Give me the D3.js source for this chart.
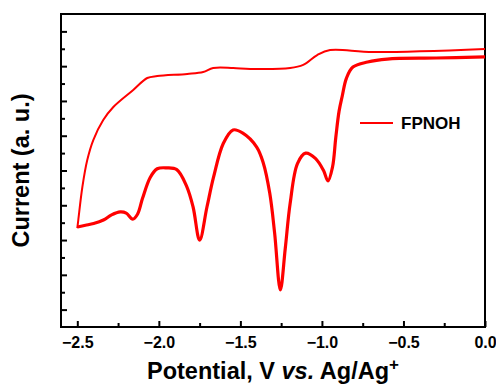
<!DOCTYPE html>
<html>
<head>
<meta charset="utf-8">
<script src="https://cdn.jsdelivr.net/npm/d3@7"></script>
<style>
html,body{margin:0;padding:0;background:#fff;}
svg{display:block;font-family:"Liberation Sans",Arial,sans-serif;}
</style>
</head>
<body>
<svg id="chart" width="496" height="385"></svg>
<script>
// ---- data ----
const seriesName = "FPNOH";
// reduction sweep (lower trace, peaks), listed by increasing potential
const sweepDownPotential = [-2.5,-2.45,-2.40,-2.34,-2.29,-2.237,-2.20,-2.16,-2.13,-2.10,-2.053,-2.01,-1.95,-1.89,-1.83,-1.79,-1.75,-1.705,-1.665,-1.605,-1.545,-1.485,-1.40,-1.36,-1.32,-1.29,-1.255,-1.225,-1.195,-1.15,-1.10,-1.04,-0.99,-0.963,-0.935,-0.915,-0.895,-0.875,-0.85,-0.81,-0.72,-0.60,-0.30,0];
const sweepDownCurrent   = [5.75,5.85,5.95,6.15,6.45,6.62,6.55,6.2,6.5,7.4,8.6,9.1,9.15,9.05,8.1,6.9,5.0,6.9,8.6,10.55,11.33,11.15,10.35,9.45,7.7,5.4,2.13,4.5,7.1,9.4,10.0,9.7,9.0,8.4,9.2,10.9,12.4,13.3,14.3,14.95,15.24,15.41,15.47,15.53];
// return sweep (upper trace)
const sweepUpPotential = [-2.5,-2.494,-2.469,-2.439,-2.402,-2.341,-2.279,-2.157,-2.071,-2.01,-1.826,-1.728,-1.667,-1.544,-1.44,-1.195,-1.115,-1.029,-0.95,-0.686,0];
const sweepUpCurrent   = [5.69,6.15,8.05,9.6,10.75,11.9,12.65,13.63,14.32,14.43,14.55,14.66,14.89,14.89,14.84,14.89,15.07,15.64,15.93,15.81,15.99];
const xMajorTicks = [-2.5,-2.0,-1.5,-1.0,-0.5,0.0];
const xMinorTicks = [-2.25,-1.75,-1.25,-0.75,-0.25];
const yMajorTicks = [1,3,5,7,9,11,13,15,17];
const yMinorTicks = [2,4,6,8,10,12,14,16];

// ---- layout ----
const L = 61, R = 485, T = 14, B = 327;
const svg = d3.select("#chart");
const x = d3.scaleLinear().domain([-2.6, 0]).range([L, R]);
const y = d3.scaleLinear().domain([0, 18]).range([B, T]);

// ticks
const gx = svg.append("g").attr("transform", `translate(0,${B})`);
gx.call(d3.axisBottom(x).tickValues(xMajorTicks).tickSize(-6).tickFormat(d3.format(".1f")).tickPadding(9));
gx.append("g").call(d3.axisBottom(x).tickValues(xMinorTicks).tickSize(-4).tickFormat(""));
gx.selectAll(".domain").remove();
gx.selectAll("line").attr("stroke", "#000").attr("stroke-width", 2);
gx.selectAll("text").attr("font-size", 16).attr("font-weight", "bold").attr("fill", "#000")
  .attr("dy", null).attr("y", 21).attr("dominant-baseline", "alphabetic");

const gy = svg.append("g").attr("transform", `translate(${L},0)`);
gy.call(d3.axisLeft(y).tickValues(yMajorTicks).tickSize(-6).tickFormat(""));
gy.append("g").call(d3.axisLeft(y).tickValues(yMinorTicks).tickSize(-4).tickFormat(""));
gy.selectAll(".domain").remove();
gy.selectAll("line").attr("stroke", "#000").attr("stroke-width", 2);

// frame
svg.append("rect").attr("x", L).attr("y", T).attr("width", R - L).attr("height", B - T)
  .attr("fill", "none").attr("stroke", "#000").attr("stroke-width", 2);

// curves
const line = d3.line().x(d => x(d[0])).y(d => y(d[1])).curve(d3.curveCatmullRom.alpha(0.5));
const down = sweepDownPotential.map((p, i) => [p, sweepDownCurrent[i]]);
const up = sweepUpPotential.map((p, i) => [p, sweepUpCurrent[i]]);
svg.append("path").datum(up).attr("d", line).attr("fill", "none").attr("stroke", "#ff0000").attr("stroke-width", 2);
svg.append("path").datum(down).attr("d", line).attr("fill", "none").attr("stroke", "#ff0000").attr("stroke-width", 3.2)
  .attr("stroke-linejoin", "round");

// legend
svg.append("line").attr("x1", 360).attr("x2", 393).attr("y1", 123).attr("y2", 123)
  .attr("stroke", "#ff0000").attr("stroke-width", 2);
svg.append("text").attr("x", 401).attr("y", 129).attr("font-size", 17).attr("font-weight", "bold")
  .attr("fill", "#000").text(seriesName);

// axis titles
const xt = svg.append("text").attr("x", (L + R) / 2).attr("y", 379).attr("text-anchor", "middle")
  .attr("font-size", 23.5).attr("font-weight", "bold").attr("fill", "#000");
xt.append("tspan").text("Potential, V ");
xt.append("tspan").attr("font-style", "italic").text("vs.");
xt.append("tspan").text(" Ag/Ag");
xt.append("tspan").attr("dy", -9).attr("font-size", 17).text("+");

svg.append("text").attr("transform", `translate(29,${(T + B) / 2}) rotate(-90)`).attr("text-anchor", "middle")
  .attr("font-size", 23.5).attr("font-weight", "bold").attr("fill", "#000").text("Current (a. u.)");
</script>
</body>
</html>
